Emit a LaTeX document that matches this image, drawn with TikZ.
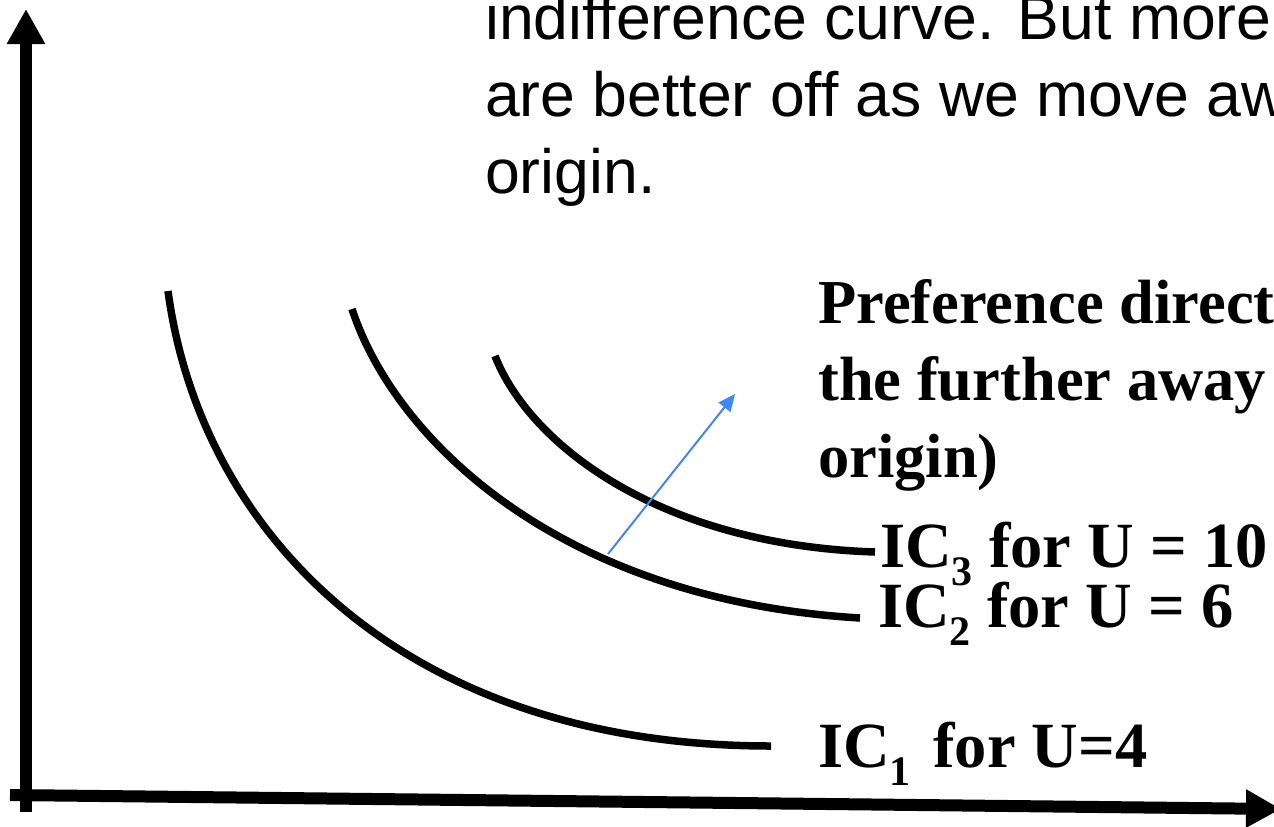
\documentclass[tikz,border=0pt]{standalone}
\usepackage{fontspec}
\setmainfont{Liberation Serif}
\newfontfamily\notefont{Liberation Sans}
\usetikzlibrary{arrows.meta}
\definecolor{prefblue}{RGB}{66,133,244}
\newcommand{\icsub}[1]{\raisebox{-0.28em}{\fontsize{42}{42}\selectfont #1}}

\begin{document}
\begin{tikzpicture}[
  x=1pt, y=-1pt,
  axis/.style={line width=12pt, -{Triangle[length=35pt,width=36pt]}},
  icurve/.style={line width=7.5pt},
  prefarrow/.style={draw=prefblue, line width=2pt, -{Triangle[length=17pt,width=15pt]}},
  note/.style={anchor=base west, inner sep=0pt, font=\notefont\fontsize{62.5}{77}\selectfont},
  prefnote/.style={anchor=base west, inner sep=0pt, font=\bfseries\fontsize{62.5}{77}\selectfont},
  iclabel/.style={anchor=base west, inner sep=0pt, font=\bfseries\fontsize{64.5}{65}\selectfont}
]
  \useasboundingbox (0,0) rectangle (1274,827);
  \clip (0,0) rectangle (1274,827);

  % Ejes
  \coordinate (o1) at (26,812);
  \coordinate (ytip) at (26,9);
  \coordinate (o2) at (10,795);
  \coordinate (xtip) at (1281,809);
  \draw[axis] (o1) -- (ytip);
  \draw[axis] (o2) -- (xtip);

  % Curvas de indiferencia
  \coordinate (ic1s) at (168,291);
  \coordinate (ic1e) at (771,746);
  \coordinate (ic2s) at (352,309);
  \coordinate (ic2e) at (860,618);
  \coordinate (ic3s) at (495,356);
  \coordinate (ic3e) at (875,552);
  \draw[icurve] (ic1s) .. controls (200,530) and (400,746) .. (ic1e);
  \draw[icurve] (ic2s) .. controls (395,440) and (560,600) .. (ic2e);
  \draw[icurve] (ic3s) .. controls (530,445) and (660,545) .. (ic3e);

  % Direccion de preferencia
  \coordinate (pstart) at (608,554);
  \coordinate (pend) at (735,394);
  \draw[prefarrow] (pstart) -- (pend);

  % Etiquetas
  \node[iclabel] (lab3) at (880,567) {IC\icsub{3} for U = 10};
  \node[iclabel] (lab2) at (878,627) {IC\icsub{2} for U = 6};
  \node[iclabel] (lab1) at (818,767) {IC\icsub{1}\hspace{0.35em}for U=4};

  \node[prefnote] (pref1) at (818,323) {Preference direct};
  \node[prefnote] (pref2) at (818,400) {the further away};
  \node[prefnote] (pref3) at (818,477) {origin)};

  \node[note] (note1) at (485,39) {indifference curve. But more};
  \node[note] (note2) at (485,116) {are better off as we move aw};
  \node[note] (note3) at (485,193) {origin.};
\end{tikzpicture}
\end{document}
